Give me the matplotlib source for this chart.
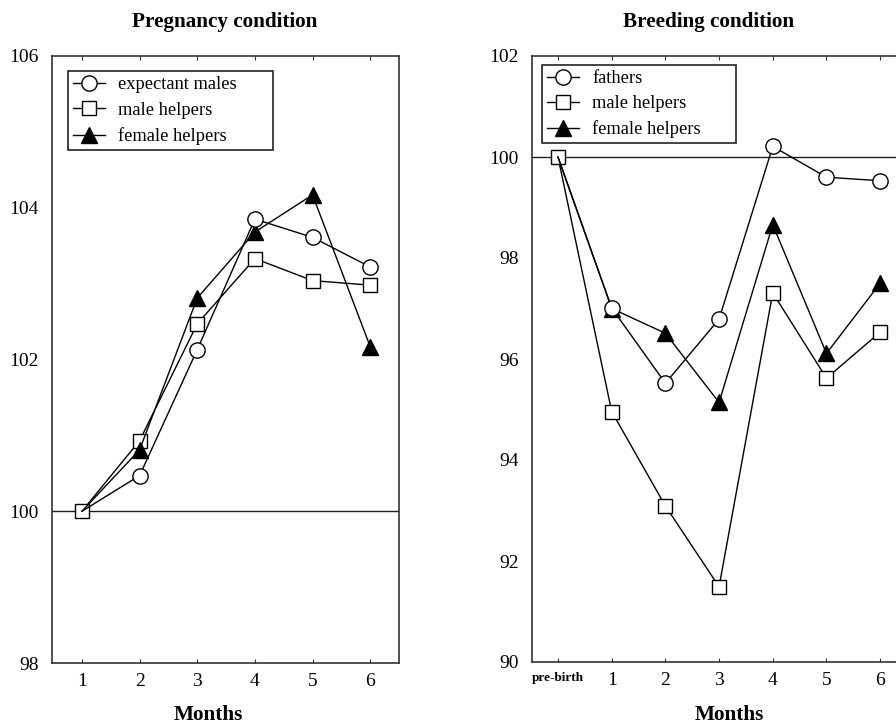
import matplotlib
matplotlib.use("Agg")
import matplotlib.pyplot as plt
from matplotlib.lines import Line2D

plt.rcParams['font.family'] = ['Liberation Serif', 'DejaVu Serif']

# pregnancy condition (months 1-6)
months = [1, 2, 3, 4, 5, 6]
preg_expectant = [100.0, 100.47, 102.13, 103.85, 103.61, 103.22]
preg_male_help = [100.0, 100.93, 102.47, 103.33, 103.04, 102.98]
preg_female_help = [100.0, 100.81, 102.81, 103.68, 104.17, 102.17]
preg_labels = ["expectant males", "male helpers", "female helpers"]

# breeding condition (pre-birth + months 1-6)
breed_months = [0, 1, 2, 3, 4, 5, 6]
breed_ticklabels = ["pre-birth", "1", "2", "3", "4", "5", "6"]
breed_fathers = [100.0, 97.01, 95.52, 96.79, 100.21, 99.60, 99.53]
breed_male_help = [100.0, 94.96, 93.09, 91.49, 97.31, 95.62, 96.53]
breed_female_help = [100.0, 97.0, 96.51, 95.14, 98.66, 96.11, 97.50]
breed_labels = ["fathers", "male helpers", "female helpers"]

circ = dict(color='black', lw=1, marker='o', ms=11, mfc='white', mec='black', mew=1)
sq = dict(color='black', lw=1, marker='s', ms=9.5, mfc='white', mec='black', mew=1)
tri = dict(color='black', lw=1, marker='^', ms=11, mfc='black', mec='black', mew=1)

W, H = 896, 726
fig = plt.figure(figsize=(W / 100, H / 100), dpi=100)


def px_axes(x0, y0, x1, y1):
    return fig.add_axes([x0 / W, 1 - y1 / H, (x1 - x0) / W, (y1 - y0) / H])


def style(ax):
    for s in ax.spines.values():
        s.set_color('#333333')
        s.set_linewidth(1.2)
    ax.tick_params(axis='x', direction='in', length=3, top=True, labelsize=14,
                   pad=7, color='#333333')
    ax.tick_params(axis='y', length=0, labelsize=14, pad=9.5)
    ax.axhline(100, color='#222222', lw=1, zorder=1)


def draw(ax, x, a, b, c, labels, anchor, lspace):
    # squares first, circles/triangles skip the shared baseline point
    ax.plot(x, b, zorder=2, **sq)
    ax.plot(x, c, markevery=list(range(1, len(x))), zorder=2, **tri)
    ax.plot(x, a, markevery=list(range(1, len(x))), zorder=2, **circ)
    handles = [Line2D([], [], **circ), Line2D([], [], **sq), Line2D([], [], **tri)]
    leg = ax.legend(handles, labels, loc='upper left', bbox_to_anchor=anchor,
                    mode='expand', borderaxespad=0, fancybox=False,
                    edgecolor='#222222', framealpha=1, fontsize=13.3,
                    handlelength=1.7, handletextpad=0.75, labelspacing=lspace,
                    borderpad=0.28)
    leg.get_frame().set_linewidth(1.2)


# left panel
ax1 = px_axes(52, 56, 399, 663)
style(ax1)
draw(ax1, months, preg_expectant, preg_male_help, preg_female_help, preg_labels,
     (16 / 347, 0, 205 / 347, 1 - 15 / 607), 0.46)
ax1.set_xlim(0.48, 6.5)
ax1.set_ylim(98, 106)
ax1.set_xticks(months)
ax1.set_yticks([98, 100, 102, 104, 106])

# right panel (runs off the right edge like the source)
ax2 = px_axes(532, 56, 907, 662)
style(ax2)
draw(ax2, breed_months, breed_fathers, breed_male_help, breed_female_help,
     breed_labels, (10 / 375, 0, 194 / 375, 1 - 9 / 606), 0.44)
ax2.set_xlim(-0.484, 6.5)
ax2.set_ylim(90, 102)
ax2.set_xticks(breed_months)
ax2.set_xticklabels(breed_ticklabels)
ax2.set_yticks([90, 92, 94, 96, 98, 100, 102])
first = ax2.get_xticklabels()[0]
first.set_fontsize(9.5)
first.set_fontweight('bold')

fig.text(225 / W, 1 - 22 / H, "Pregnancy condition", ha='center', va='center',
         fontsize=15.2, fontweight='bold')
fig.text(709 / W, 1 - 22 / H, "Breeding condition", ha='center', va='center',
         fontsize=15.2, fontweight='bold')
fig.text(208 / W, 1 - 715 / H, "Months", ha='center', va='center',
         fontsize=15.3, fontweight='bold')
fig.text(729 / W, 1 - 715 / H, "Months", ha='center', va='center',
         fontsize=15.3, fontweight='bold')

fig.savefig("out.png", dpi=100)
